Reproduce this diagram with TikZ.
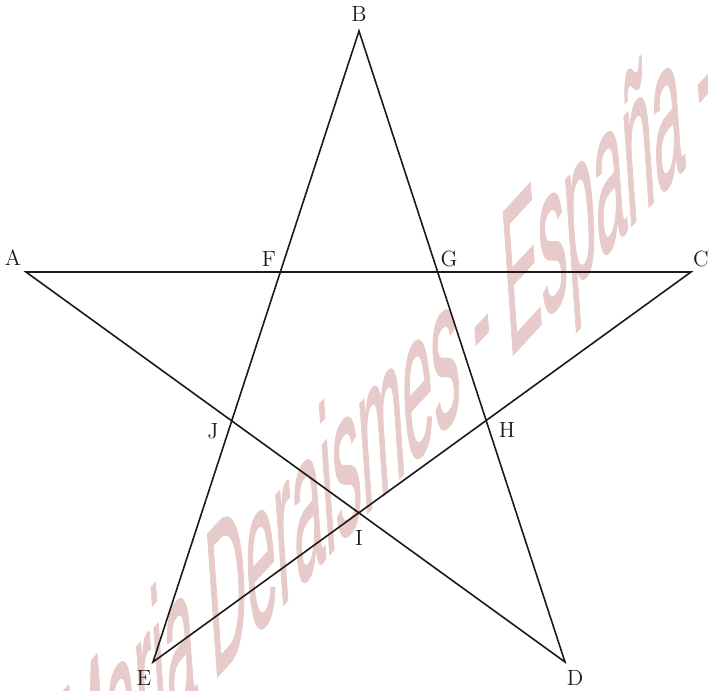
\documentclass[tikz,border=0pt]{standalone}
\usepackage{fontspec}
\newfontfamily\wmfont[FakeBold=1.2]{Liberation Sans}
\definecolor{wmpink}{RGB}{231,203,203}
\definecolor{ink}{RGB}{26,26,26}
\begin{document}
\begin{tikzpicture}[x=0.5pt,y=-0.5pt,
  starline/.style={draw=ink,line width=0.8pt},
  ptlabel/.style={inner sep=0pt,text=ink,font=\fontsize{11}{13}\selectfont},
  watermark/.style={inner sep=0pt,anchor=base west,text=wmpink,transform shape,
    font=\fontsize{10}{12}\selectfont\wmfont}]
\useasboundingbox (0,0) rectangle (708,691);
\clip (0,0) rectangle (708,691);
% watermark
\begin{scope}[shift={(67,840)},cm={2.61,2.84,-0.72,10.3,(0,0)}]
  \node[watermark] (wm) at (0,0) {Maria Deraismes - España -};
\end{scope}
% star points
\coordinate (A) at (26,272);
\coordinate (B) at (359,31);
\coordinate (C) at (691,272);
\coordinate (D) at (565,662);
\coordinate (E) at (153,662);
\draw[starline] (A) -- (C) -- (E) -- (B) -- (D) -- cycle;
% labels
\node[ptlabel] (lA) at (13,258) {A};
\node[ptlabel] (lB) at (359,14) {B};
\node[ptlabel] (lC) at (701,259) {C};
\node[ptlabel] (lD) at (575,678) {D};
\node[ptlabel] (lE) at (144,678) {E};
\node[ptlabel] (lF) at (269,259) {F};
\node[ptlabel] (lG) at (449,259) {G};
\node[ptlabel] (lH) at (507,430) {H};
\node[ptlabel] (lI) at (359,538) {I};
\node[ptlabel] (lJ) at (213,431) {J};
\end{tikzpicture}
\end{document}
